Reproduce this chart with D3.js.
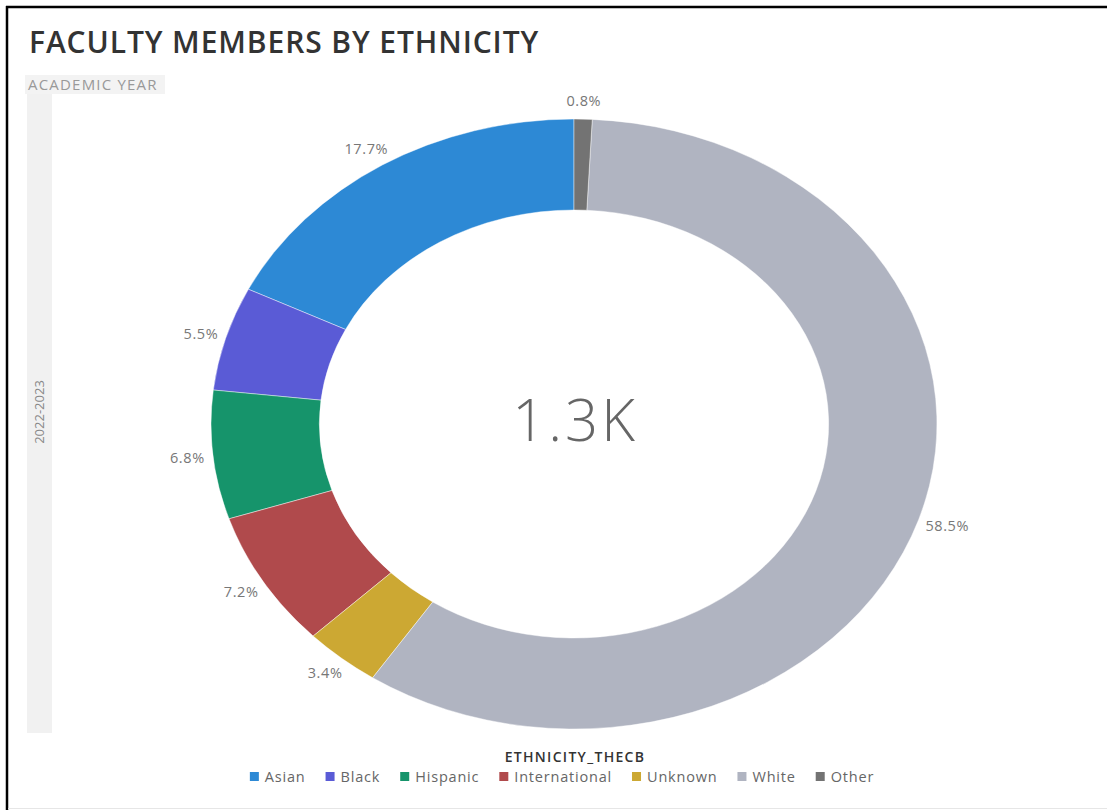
<!DOCTYPE html>
<html>
<head>
<meta charset="utf-8">
<script src="https://cdn.jsdelivr.net/npm/d3@7"></script>
<style>
  body { margin: 0; background: #fff; }
  svg { display: block; font-family: "Open Sans", sans-serif; }
</style>
</head>
<body>
<div id="chart"></div>
<script>
// Ethnicity breakdown, 2022-2023 (percent of faculty)
const categories = ['Asian', 'Black', 'Hispanic', 'International', 'Unknown', 'White', 'Other'];
const percents = [17.7, 5.5, 6.8, 7.2, 3.4, 58.5, 0.8];
const colors = ['#2d89d5', '#5a5bd6', '#16946b', '#b04a4c', '#cca833', '#b0b4c1', '#737373'];
const totalLabel = '1.3K';
const yearLabel = '2022-2023';

const width = 1107, height = 810;
const cx = 574, cy = 424;
const outerR = 305, innerR = 214;
const xStretch = 1.19; // the donut is drawn wider than tall

const svg = d3.select('#chart').append('svg')
  .attr('width', width)
  .attr('height', height);

// frame lines
svg.append('line').attr('x1', 6).attr('x2', width).attr('y1', 7).attr('y2', 7)
  .attr('stroke', '#000').attr('stroke-width', 2.5);
svg.append('line').attr('x1', 7).attr('x2', 7).attr('y1', 6).attr('y2', height)
  .attr('stroke', '#000').attr('stroke-width', 2.5);
svg.append('line').attr('x1', 8).attr('x2', width).attr('y1', 808.5).attr('y2', 808.5)
  .attr('stroke', '#e6e6e6').attr('stroke-width', 1);

// title
svg.append('text')
  .attr('x', 29).attr('y', 53)
  .attr('font-size', 30).attr('font-weight', 600)
  .attr('letter-spacing', 0.9)
  .attr('fill', '#333')
  .text('FACULTY MEMBERS BY ETHNICITY');

// academic year trellis header + side bar
svg.append('rect').attr('x', 27).attr('y', 93).attr('width', 25).attr('height', 640).attr('fill', '#f1f1f1');
svg.append('rect').attr('x', 25).attr('y', 75).attr('width', 140).attr('height', 19).attr('fill', '#f3f3f3');
svg.append('text')
  .attr('x', 28).attr('y', 90)
  .attr('font-size', 15).attr('fill', '#999')
  .attr('letter-spacing', 1.2)
  .text('ACADEMIC YEAR');
svg.append('text')
  .attr('transform', `translate(44,412) rotate(-90)`)
  .attr('text-anchor', 'middle')
  .attr('font-size', 13).attr('fill', '#888')
  .text(yearLabel);

// donut, counter-clockwise from 12 o'clock
const pie = d3.pie().sort(null).startAngle(0).endAngle(-2 * Math.PI);
const arcs = pie(percents);
const arc = d3.arc().innerRadius(innerR).outerRadius(outerR);

const donut = svg.append('g')
  .attr('transform', `translate(${cx},${cy}) scale(${xStretch},1)`);

donut.selectAll('path')
  .data(arcs)
  .enter().append('path')
  .attr('d', arc)
  .attr('fill', (d, i) => colors[i])
  .attr('stroke', '#fff')
  .attr('stroke-width', 0.4);

// slice labels just outside the ring
const labelR = outerR + 7;
const labels = svg.append('g');
arcs.forEach((d, i) => {
  const a = (d.startAngle + d.endAngle) / 2;
  const sx = Math.sin(a), sy = -Math.cos(a);
  const t = labels.append('text')
    .attr('font-size', 14.5).attr('fill', '#777')
    .attr('letter-spacing', 0.6)
    .attr('text-anchor', 'middle')
    .attr('dominant-baseline', 'central')
    .text(percents[i].toFixed(1) + '%');
  const w = t.node().getBBox().width;
  const px = cx + sx * labelR * xStretch + sx * w / 2;
  const py = cy + sy * labelR + sy * 12;
  t.attr('x', px).attr('y', py);
});

// center total
svg.append('text')
  .attr('x', cx + 1).attr('y', cy - 6)
  .attr('text-anchor', 'middle')
  .attr('dominant-baseline', 'central')
  .attr('font-size', 58).attr('font-weight', 300)
  .attr('letter-spacing', 3)
  .attr('fill', '#666')
  .text(totalLabel);

// legend
svg.append('text')
  .attr('x', 575).attr('y', 756)
  .attr('text-anchor', 'middle')
  .attr('dominant-baseline', 'central')
  .attr('font-size', 14).attr('font-weight', 600).attr('fill', '#333')
  .attr('letter-spacing', 1.3)
  .text('ETHNICITY_THECB');

const legend = svg.append('g');
let lx = 0;
categories.forEach((c, i) => {
  const item = legend.append('g').attr('transform', `translate(${lx},0)`);
  item.append('rect').attr('x', 0).attr('y', -4).attr('width', 9).attr('height', 9).attr('fill', colors[i]);
  const t = item.append('text').attr('x', 15).attr('y', 0)
    .attr('dominant-baseline', 'central')
    .attr('font-size', 14.5).attr('fill', '#666')
    .attr('letter-spacing', 0.8)
    .text(c);
  lx += 15 + t.node().getBBox().width + 20;
});
const legendW = lx - 20;
legend.attr('transform', `translate(${562 - legendW / 2},776)`);
</script>
</body>
</html>
